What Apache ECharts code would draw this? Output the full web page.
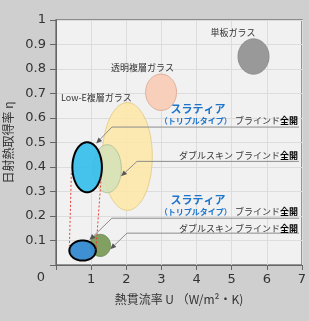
<!DOCTYPE html>
<html><head><meta charset="utf-8">
<script src="https://cdn.jsdelivr.net/npm/echarts@6/dist/echarts.min.js"></script>
<style>html,body{margin:0;padding:0;background:#cfcfcf}#c{width:309px;height:321px}</style>
</head><body><div id="c"></div>
<script>
// ---- data ----
const glassNames = ['Low-E複層ガラス','ダブルスキン ブラインド全開(上)','スラティア ブラインド全開(上)','単板ガラス','透明複層ガラス','ダブルスキン ブラインド全開(下)','スラティア ブラインド全開(下)'];
const uCenter   = [2.03, 1.46, 0.886, 5.62, 2.99, 1.26, 0.757];
const etaCenter = [0.443, 0.393, 0.399, 0.851, 0.705, 0.080, 0.059];
const uSpread   = [0.71, 0.40, 0.42, 0.44, 0.44, 0.29, 0.377];
const etaSpread = [0.22, 0.098, 0.102, 0.072, 0.074, 0.045, 0.041];

const leaderTipU     = [1.143, 1.849, 0.951, 1.543];
const leaderTipEta   = [0.496, 0.362, 0.102, 0.064];
const leaderElbowU   = [1.591, 2.306, 1.591, 2.020];
const leaderLineEta  = [0.563, 0.423, 0.191, 0.130];
const leaderEndU     = [6.914, 6.914, 6.914, 6.914];

const linkLeft  = [[0.437, 0.376], [0.380, 0.068]];
const linkRight = [[1.286, 0.357], [1.134, 0.061]];

const xTickLabels = ['0','1','2','3','4','5','6','7'];
const yTickLabels = ['0','0.1','0.2','0.3','0.4','0.5','0.6','0.7','0.8','0.9','1'];

// ---- styles ----
const fills   = ['rgba(253,231,168,0.88)','rgba(211,225,185,0.85)','rgba(50,190,236,0.9)','#999999','#f8cfba','#82a062','rgba(52,138,208,0.95)'];
const strokes = ['#e6d08e','#b3c69a','#000000','#8a8a8a','#e0ae98','#6c8b4f','#000000'];
const strokeW = [1,1,2,1,1,1,2];

const JP = "'Noto Sans CJK JP', sans-serif";

const ellipseData = uCenter.map((u,i)=>[u, etaCenter[i], uSpread[i], etaSpread[i]]);
const leaderData = leaderTipU.map((u,i)=>[leaderEndU[i], leaderLineEta[i], leaderElbowU[i], u, leaderTipEta[i]]);

const chart = echarts.init(document.getElementById('c'));
chart.setOption({
  backgroundColor: '#cfcfcf',
  animation: false,
  grid: {left: 56, right: 7, top: 20, bottom: 56, containLabel: false, outerBoundsMode: 'none',
         show: true, backgroundColor: '#f1f1f1', borderColor: '#777', borderWidth: 1.5},
  xAxis: {
    type: 'value', min: 0, max: 7, interval: 1,
    name: '熱貫流率 U （W/m²・K)', nameLocation: 'middle', nameGap: 28,
    nameTextStyle: {fontFamily: JP, fontSize: 12, color: '#333'},
    axisLine: {show: true, lineStyle: {color: '#666', width: 1}},
    axisTick: {show: true, length: 5, lineStyle: {color: '#666'}},
    axisLabel: {margin: 8, fontSize: 13, color: '#333', fontFamily: 'DejaVu Sans',
      formatter: (v)=> v === 0 ? '' : xTickLabels[Math.round(v)]},
    splitLine: {show: true, lineStyle: {color: '#dcdcdc', width: 1}}
  },
  yAxis: {
    type: 'value', min: 0, max: 1, interval: 0.1,
    name: '日射熱取得率 η', nameLocation: 'middle', nameGap: 42, nameRotate: 90,
    nameTextStyle: {fontFamily: JP, fontSize: 12, color: '#333'},
    axisLine: {show: true, lineStyle: {color: '#666', width: 1}},
    axisTick: {show: true, length: 6, lineStyle: {color: '#666'}},
    axisLabel: {margin: 10, fontSize: 13, color: '#333', fontFamily: 'DejaVu Sans',
      formatter: (v)=> { const k = Math.round(v*10); return k === 0 ? '' : yTickLabels[k]; }},
    splitLine: {show: true, lineStyle: {color: '#dcdcdc', width: 1}}
  },
  graphic: [
    {type:'text', x: 41, y: 278, style:{text:'0', font:'13px DejaVu Sans', fill:'#333', align:'center', verticalAlign:'middle'}},
    {type:'text', x: 233, y: 33, z: 100, style:{text:'単板ガラス', font:'9px '+JP, fill:'#333', align:'center', verticalAlign:'middle'}},
    {type:'text', x: 111, y: 68, z: 100, style:{text:'透明複層ガラス', font:'9px '+JP, fill:'#333', align:'left', verticalAlign:'middle'}},
    {type:'text', x: 61, y: 98, z: 100, style:{text:'Low-E複層ガラス', font:'9px '+JP, fill:'#333', align:'left', verticalAlign:'middle'}},
    {type:'text', x: 198, y: 109, z: 100, style:{text:'スラティア', font:'bold 11px '+JP, fill:'#1c74cc', align:'center', verticalAlign:'middle'}},
    {type:'text', x: 298, y: 121, z: 100, style:{text:'{b|（トリプルタイプ）} {g|ブラインド}{k|全開}', align:'right', verticalAlign:'middle',
      rich:{b:{font:'bold 8px '+JP, fill:'#1c74cc'}, g:{font:'9px '+JP, fill:'#333'}, k:{font:'bold 9px '+JP, fill:'#000'}}}},
    {type:'text', x: 298, y: 155.5, z: 100, style:{text:'{g|ダブルスキン ブラインド}{k|全開}', align:'right', verticalAlign:'middle',
      rich:{g:{font:'9px '+JP, fill:'#333'}, k:{font:'bold 9px '+JP, fill:'#000'}}}},
    {type:'text', x: 198, y: 200, z: 100, style:{text:'スラティア', font:'bold 11px '+JP, fill:'#1c74cc', align:'center', verticalAlign:'middle'}},
    {type:'text', x: 298, y: 212, z: 100, style:{text:'{b|（トリプルタイプ）} {g|ブラインド}{k|全開}', align:'right', verticalAlign:'middle',
      rich:{b:{font:'bold 8px '+JP, fill:'#1c74cc'}, g:{font:'9px '+JP, fill:'#333'}, k:{font:'bold 9px '+JP, fill:'#000'}}}},
    {type:'text', x: 298, y: 229, z: 100, style:{text:'{g|ダブルスキン ブラインド}{k|全開}', align:'right', verticalAlign:'middle',
      rich:{g:{font:'9px '+JP, fill:'#333'}, k:{font:'bold 9px '+JP, fill:'#000'}}}}
  ],
  series: [
    {
      type: 'custom', name: 'glass', coordinateSystem: 'cartesian2d', encode: {x: 0, y: 1}, z: 2,
      data: ellipseData,
      renderItem: function(params, api){
        const i = params.dataIndex;
        const c = api.coord([api.value(0), api.value(1)]);
        const s = api.size([api.value(2), api.value(3)]);
        const pts = [];
        for (let k = 0; k < 96; k++) {
          const t = k / 96 * Math.PI * 2;
          pts.push([c[0] + s[0]*Math.cos(t), c[1] + s[1]*Math.sin(t)]);
        }
        return {type:'polygon', shape:{points: pts}, style:{fill: fills[i], stroke: strokes[i], lineWidth: strokeW[i]}};
      }
    },
    {
      type: 'line', data: linkLeft, symbol: 'none', z: 3,
      lineStyle: {color: '#ee3b3b', width: 1, type: [2, 2]}
    },
    {
      type: 'line', data: linkRight, symbol: 'none', z: 3,
      lineStyle: {color: '#ee3b3b', width: 1, type: [2, 2]}
    },
    {
      type: 'custom', name: 'leaders', coordinateSystem: 'cartesian2d', encode: {x: 0, y: 1}, z: 4,
      data: leaderData,
      renderItem: function(params, api){
        const e = api.coord([api.value(0), api.value(1)]);
        const b = api.coord([api.value(2), api.value(1)]);
        const t = api.coord([api.value(3), api.value(4)]);
        const dx = t[0]-b[0], dy = t[1]-b[1];
        const L = Math.sqrt(dx*dx+dy*dy);
        const ux = dx/L, uy = dy/L;
        const len = 6, hw = 2.5;
        const bx = t[0]-ux*len, by = t[1]-uy*len;
        return {type:'group', children:[
          {type:'polyline', shape:{points:[e, b, [bx, by]]}, style:{stroke:'#8c8c8c', lineWidth:1, fill:null}},
          {type:'polygon', shape:{points:[t, [bx - uy*hw, by + ux*hw], [bx + uy*hw, by - ux*hw]]}, style:{fill:'#555', stroke:null}}
        ]};
      }
    }
  ]
});
</script>
</body></html>
